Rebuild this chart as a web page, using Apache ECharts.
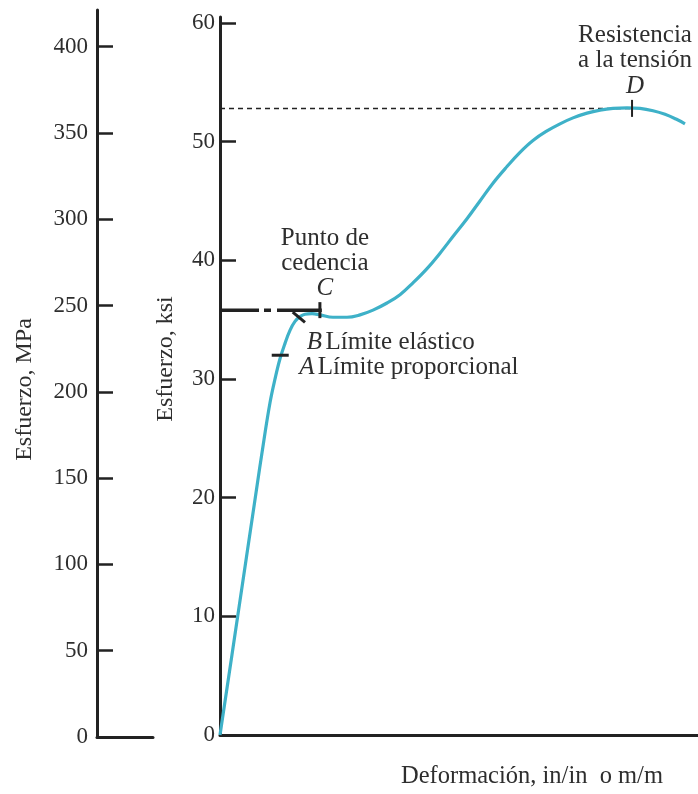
<!DOCTYPE html>
<html><head><meta charset="utf-8">
<script src="https://cdn.jsdelivr.net/npm/echarts@6/dist/echarts.min.js"></script>
<style>html,body{margin:0;padding:0;background:#fff}#c{width:698px;height:794px}</style>
</head><body><div id="c"></div>
<script>
// Data (strain in arbitrary units 0-100, stress in ksi)
const strain = [0,3.70,7.38,9.21,10.46,11.51,12.55,13.60,14.64,15.69,16.74,17.78,19.25,20.92,23.64,26.57,29.29,32.01,34.94,37.66,40.38,43.31,46.03,48.74,51.67,54.39,57.11,60.04,62.76,65.48,68.41,71.13,73.85,76.78,79.50,82.22,85.15,87.87,90.59,93.10,95.40,97.28];
const stressKsi = [0,10,20,24.9,28.0,30.0,31.7,33.0,34.1,34.85,35.25,35.45,35.5,35.4,35.2,35.2,35.4,35.8,36.4,37.1,38.1,39.3,40.6,42.0,43.5,45.0,46.5,47.9,49.1,50.1,50.9,51.5,52.0,52.4,52.65,52.8,52.85,52.8,52.6,52.3,51.9,51.5];
const ksiTicks = [0,10,20,30,40,50,60];
const mpaTicks = [0,50,100,150,200,250,300,350,400];
const yieldLine = [[0,35.8],[21.3,35.8]];
const tensileLine = [[0,52.8],[86.2,52.8]];
const pointA = [12.6,32.0];
const pointB = [16.5,35.2];
const pointC = [20.9,35.8];
const pointD = [86.2,52.8];
const xName = 'Deformación, in/in  o m/m';
const ksiName = 'Esfuerzo, ksi';
const mpaName = 'Esfuerzo, MPa';
const labelsText = {
  A: ['A','Límite proporcional'],
  B: ['B','Límite elástico'],
  C: ['Punto de','cedencia','C'],
  D: ['Resistencia','a la tensión','D']
};

const font = 'Liberation Serif';
const ink = '#222';
const txt = '#2e2e2e';
const rich = {
  n:{fontFamily:font,fontSize:25,lineHeight:25,color:txt},
  i:{fontFamily:font,fontSize:25,lineHeight:25,color:txt,fontStyle:'italic'},
  j:{fontFamily:font,fontSize:25,lineHeight:27,color:txt,fontStyle:'italic'}
};
const curve = strain.map((x,i)=>[x,stressKsi[i]]);

const chart = echarts.init(document.getElementById('c'));
chart.setOption({
  animation:false,
  grid:[
    {left:220,right:0,top:17,bottom:57},
    {left:97,width:56,top:10,bottom:57}
  ],
  xAxis:[
    {gridIndex:0,type:'value',min:0,max:100,
     axisLine:{lineStyle:{color:ink,width:3}},axisTick:{show:false},axisLabel:{show:false},splitLine:{show:false},
     name:xName,nameLocation:'middle',nameGap:29,
     nameTextStyle:{fontFamily:font,fontSize:24.5,color:txt,padding:[0,0,0,146]}},
    {gridIndex:1,type:'value',min:0,max:1,
     axisLine:{lineStyle:{color:ink,width:3}},axisTick:{show:false},axisLabel:{show:false},splitLine:{show:false}}
  ],
  yAxis:[
    {gridIndex:0,type:'value',min:0,max:60.5,
     axisLine:{show:true,lineStyle:{color:ink,width:3}},
     axisTick:{show:true,inside:true,length:16,lineStyle:{color:ink,width:2.5},customValues:ksiTicks},
     axisLabel:{customValues:ksiTicks,margin:5,fontFamily:font,fontSize:23,color:txt},
     splitLine:{show:false},
     name:ksiName,nameLocation:'middle',nameGap:42,
     nameTextStyle:{fontFamily:font,fontSize:24,color:txt,padding:[0,0,0,34]}},
    {gridIndex:1,type:'value',min:0,max:421.2,
     axisLine:{show:true,lineStyle:{color:ink,width:3}},
     axisTick:{show:true,inside:true,length:16,lineStyle:{color:ink,width:2.5},customValues:mpaTicks},
     axisLabel:{customValues:mpaTicks,margin:9,fontFamily:font,fontSize:23,color:txt},
     splitLine:{show:false},
     name:mpaName,nameLocation:'middle',nameGap:60,
     nameTextStyle:{fontFamily:font,fontSize:24,color:txt,padding:[0,32,0,0]}}
  ],
  series:[
    {type:'line',xAxisIndex:0,yAxisIndex:0,data:tensileLine,symbol:'none',silent:true,z:2,
     lineStyle:{color:'#222',width:1.5,type:[5,4]}},
    {type:'line',xAxisIndex:0,yAxisIndex:0,data:curve,symbol:'none',smooth:0.4,silent:true,z:3,
     lineStyle:{color:'#3eb1c8',width:3.2}},
    {type:'line',xAxisIndex:0,yAxisIndex:0,data:yieldLine,symbol:'none',silent:true,z:4,
     lineStyle:{color:ink,width:3.5,type:[39,5,7,6,60,0],cap:'butt'}},
    {type:'scatter',xAxisIndex:0,yAxisIndex:0,silent:true,z:5,symbol:'rect',
     itemStyle:{color:ink,opacity:1},
     data:[
       {value:pointA,symbolSize:[17,3],
        label:{show:true,position:'inside',align:'left',verticalAlign:'middle',offset:[19,12.5],
          formatter:'{i|'+labelsText.A[0]+'} {n|'+labelsText.A[1]+'}',rich:rich}},
       {value:pointB,symbolSize:[16,3],symbolRotate:-40,
        label:{show:true,position:'inside',align:'left',verticalAlign:'middle',offset:[8,25],
          formatter:'{i|'+labelsText.B[0]+'} {n|'+labelsText.B[1]+'}',rich:rich}},
       {value:pointC,symbolSize:[3,16],
        label:{show:true,position:'top',distance:1,offset:[5,0],align:'center',
          formatter:'{n|'+labelsText.C[0]+'}\n{n|'+labelsText.C[1]+'}\n{i|'+labelsText.C[2]+'}',rich:rich}},
       {value:pointD,symbolSize:[2,17],
        label:{show:true,position:'top',distance:0,offset:[3,0],align:'center',
          formatter:'{n|'+labelsText.D[0]+'}\n{n|'+labelsText.D[1]+'}\n{j|'+labelsText.D[2]+'}',rich:rich}}
     ]}
  ]
});
</script></body></html>
